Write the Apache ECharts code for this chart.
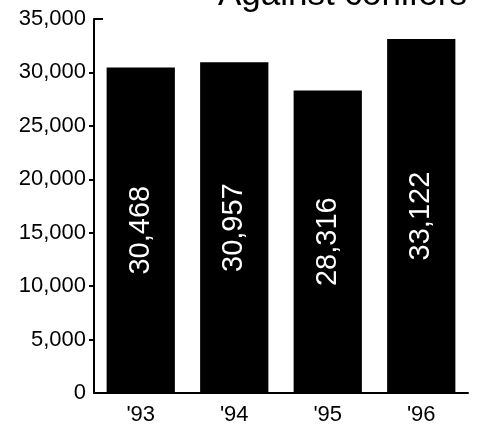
<!DOCTYPE html>
<html>
<head>
<meta charset="utf-8">
<script src="https://cdn.jsdelivr.net/npm/echarts@6/dist/echarts.min.js"></script>
<style>
html,body{margin:0;padding:0;background:#fff;}
#c{width:479px;height:426px;}
</style>
</head>
<body>
<div id="c"></div>
<script>
var titleText = 'Against conifers';
var categories = ["'93", "'94", "'95", "'96"];
var values = [30468, 30957, 28316, 33122];
var yMin = 0, yMax = 35000, yInterval = 5000;
var outerTickValues = [5000, 10000, 15000, 20000, 25000, 30000];
var innerTickValues = [35000];

var FONT = '"Liberation Sans", Arial, sans-serif';
var chart = echarts.init(document.getElementById('c'), null, {renderer: 'canvas'});
chart.setOption({
  animation: false,
  backgroundColor: '#fff',
  title: {
    text: titleText,
    left: 218,
    top: -22,
    padding: 0,
    textStyle: {fontFamily: FONT, fontSize: 35, fontWeight: 'normal', color: '#000'}
  },
  grid: {left: 94, right: 11, top: 19, bottom: 32, containLabel: false},
  xAxis: {
    type: 'category',
    data: categories,
    boundaryGap: true,
    axisLine: {lineStyle: {color: '#000', width: 2}},
    axisTick: {inside: true, length: 10, lineStyle: {color: '#000', width: 2}},
    axisLabel: {fontFamily: FONT, fontSize: 22, color: '#000', margin: 11}
  },
  yAxis: [{
    type: 'value',
    min: yMin, max: yMax, interval: yInterval,
    splitLine: {show: false},
    axisLine: {show: true, lineStyle: {color: '#000', width: 2}},
    axisTick: {show: true, length: 5, customValues: outerTickValues, lineStyle: {color: '#000', width: 2}},
    axisLabel: {
      fontFamily: FONT, fontSize: 22, color: '#000', margin: 8,
      formatter: function (v) { return v.toLocaleString('en-US'); }
    }
  }, {
    type: 'value',
    position: 'left',
    min: yMin, max: yMax, interval: yInterval,
    splitLine: {show: false},
    axisLine: {show: false},
    axisLabel: {show: false},
    axisTick: {show: true, inside: true, length: 9, customValues: innerTickValues, lineStyle: {color: '#000', width: 2}}
  }],
  series: [{
    type: 'bar',
    data: values,
    barCategoryGap: '27%',
    itemStyle: {color: '#000'},
    label: {
      show: true,
      position: 'inside',
      rotate: 90,
      fontFamily: FONT,
      fontSize: 29,
      color: '#fff',
      formatter: function (p) { return p.value.toLocaleString('en-US'); }
    }
  }]
});
</script>
</body>
</html>
